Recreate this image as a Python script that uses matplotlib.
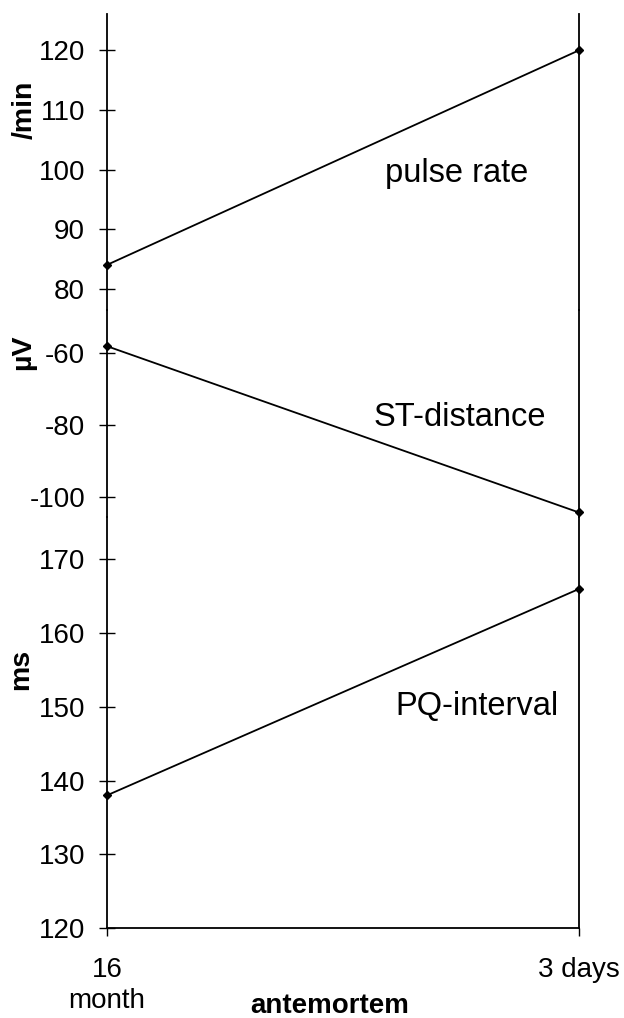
import matplotlib.pyplot as plt

plt.rcParams['font.family'] = ['Liberation Sans', 'DejaVu Sans']
plt.rcParams['axes.unicode_minus'] = False

# data
x_pos = [0, 1]
x_labels = ['16\nmonth', '3 days']
pulse_rate = [84, 120]        # /min
st_distance = [-58, -104.4]   # µV
pq_interval = [138, 166]      # ms

pulse_ticks = [80, 90, 100, 110, 120]
st_ticks = [-100, -80, -60]
pq_ticks = [120, 130, 140, 150, 160, 170]

W, H = 624, 1018
fig = plt.figure(figsize=(W / 100, H / 100), dpi=100)

x0, x1 = 107, 579


def px_axes(top, bottom):
    return fig.add_axes([x0 / W, (H - bottom) / H, (x1 - x0) / W, (bottom - top) / H])


ax_top = px_axes(14, 310)
ax_mid = px_axes(310, 517)
ax_bot = px_axes(517, 928)

panels = [
    (ax_top, pulse_rate, pulse_ticks, (76.43, 126.09)),
    (ax_mid, st_distance, st_ticks, (-105.66, -47.9)),
    (ax_bot, pq_interval, pq_ticks, (120, 175.76)),
]

for ax, vals, ticks, lim in panels:
    ax.plot(x_pos, vals, color='black', lw=1.3, marker='D', ms=4.5, clip_on=False, zorder=5)
    ax.set_xlim(0, 1)
    ax.set_ylim(*lim)
    ax.set_yticks(ticks)
    ax.tick_params(axis='y', direction='inout', length=11.5, width=1.0, pad=10,
                   labelsize=20, left=True, right=False)
    ax.spines['top'].set_visible(False)
    ax.spines['bottom'].set_visible(False)
    for s in ('left', 'right'):
        ax.spines[s].set_linewidth(1.3)
    ax.set_xticks([])
    ax.patch.set_alpha(0)

ax_bot.spines['bottom'].set_visible(True)
ax_bot.spines['bottom'].set_linewidth(1.3)
ax_bot.set_xticks(x_pos)
ax_bot.set_xticklabels(x_labels, linespacing=1.25)
ax_bot.tick_params(axis='x', direction='out', length=6, width=1.0, pad=15, labelsize=20)


def ftext(px, py, s, **kw):
    fig.text(px / W, (H - py) / H, s, **kw)


# axis titles
ftext(25, 110, '/min', rotation=90, ha='center', va='center', fontsize=20.5, fontweight='bold')
ftext(23, 352, 'µV', rotation=90, ha='center', va='center', fontsize=20.5, fontweight='bold')
ftext(21, 669, 'ms', rotation=90, ha='center', va='center', fontsize=20.5, fontweight='bold')
ftext(330, 1013, 'antemortem', ha='center', va='baseline', fontsize=20, fontweight='bold')

# series names
ftext(457, 182, 'pulse rate', ha='center', va='baseline', fontsize=23.5)
ftext(460, 426, 'ST-distance', ha='center', va='baseline', fontsize=23.5)
ftext(477, 715, 'PQ-interval', ha='center', va='baseline', fontsize=23.5)

fig.savefig('out.png', dpi=100)
